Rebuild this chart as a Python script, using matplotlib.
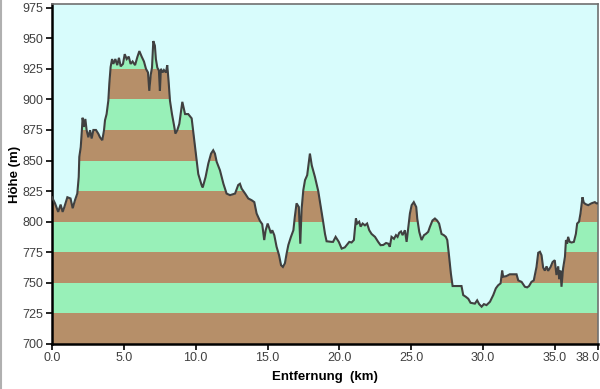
import matplotlib
matplotlib.use("Agg")
import matplotlib.pyplot as plt
import matplotlib.transforms as mtransforms
from matplotlib.lines import Line2D
import numpy as np

# Profile data (distance km, elevation m)
dist_km = [0.00, 0.21, 0.43, 0.60, 0.74, 0.86, 1.07, 1.29, 1.44, 1.60, 1.76, 1.86, 1.90, 2.00, 2.08,
           2.13, 2.22, 2.32, 2.41, 2.53, 2.65, 2.76, 2.88, 3.06, 3.22, 3.34, 3.50, 3.62, 3.69, 3.80,
           3.92, 3.99, 4.08, 4.18, 4.27, 4.41, 4.54, 4.66, 4.78, 4.94, 5.06, 5.20, 5.34, 5.47, 5.61,
           5.78, 5.94, 6.08, 6.24, 6.40, 6.54, 6.68, 6.77, 6.87, 6.96, 7.05, 7.16, 7.23, 7.33, 7.44,
           7.51, 7.58, 7.70, 7.79, 7.93, 8.02, 8.11, 8.21, 8.35, 8.49, 8.59, 8.72, 8.86, 9.07, 9.26,
           9.48, 9.72, 9.95, 10.18, 10.41, 10.49, 10.69, 10.88, 11.07, 11.22, 11.34, 11.46, 11.69, 11.93, 12.15,
           12.39, 12.74, 12.96, 13.08, 13.20, 13.44, 13.66, 13.89, 14.08, 14.24, 14.47, 14.63, 14.77, 14.87, 15.01,
           15.13, 15.23, 15.33, 15.47, 15.63, 15.80, 15.94, 16.07, 16.21, 16.33, 16.45, 16.63, 16.80, 16.90, 17.02,
           17.18, 17.28, 17.37, 17.49, 17.61, 17.76, 17.95, 18.08, 18.30, 18.53, 18.69, 18.87, 19.00, 19.11, 19.46,
           19.56, 19.74, 19.96, 20.16, 20.38, 20.69, 20.85, 21.01, 21.15, 21.24, 21.38, 21.48, 21.62, 21.78, 21.93,
           22.08, 22.24, 22.48, 22.70, 22.87, 23.06, 23.25, 23.41, 23.51, 23.63, 23.80, 23.94, 24.05, 24.17, 24.29,
           24.40, 24.56, 24.68, 24.80, 24.91, 25.03, 25.18, 25.35, 25.42, 25.56, 25.72, 25.89, 26.02, 26.18, 26.30,
           26.48, 26.65, 26.80, 26.94, 27.11, 27.27, 27.41, 27.51, 27.64, 27.76, 27.88, 28.16, 28.50, 28.62, 28.80,
           28.97, 29.13, 29.43, 29.59, 29.73, 29.90, 30.06, 30.24, 30.48, 30.71, 30.89, 31.05, 31.22, 31.33, 31.40,
           31.62, 31.86, 32.10, 32.33, 32.45, 32.68, 32.91, 33.07, 33.20, 33.37, 33.53, 33.72, 33.84, 33.96, 34.07,
           34.18, 34.30, 34.42, 34.53, 34.70, 34.84, 34.99, 35.11, 35.23, 35.30, 35.39, 35.46, 35.57, 35.70, 35.77,
           35.85, 35.92, 36.03, 36.16, 36.32, 36.46, 36.55, 36.68, 36.78, 36.92, 37.01, 37.13, 37.32, 37.54, 37.78,
           37.89, 38.00]
elev_m = [820, 815, 808, 814, 808, 812, 820, 819, 811, 817.6, 823, 836.6, 853, 861, 874.8,
          885, 877.5, 884, 874.8, 869, 874.8, 868, 875, 875, 872, 869, 866.6, 874.8, 883, 888,
          899, 913, 926.5, 933, 929, 933, 928, 934, 927, 929, 937, 933, 935, 929, 931,
          928, 934.6, 939.5, 935, 931, 925, 922, 907, 920, 926, 947.7, 944, 933, 926, 923.5,
          907, 925, 922, 924, 922, 928, 915.6, 899, 888, 879, 872, 874.8, 880, 898, 888,
          888, 884.5, 862, 839, 830, 828, 836.6, 847.6, 855.7, 858.4, 855.7, 849, 842, 831, 823,
          821.7, 823, 830, 831, 827, 823, 819, 817.6, 816, 806.7, 800.7, 798, 785, 793, 798.5,
          794.4, 790.6, 793, 789, 779.5, 772.7, 764.5, 763, 766, 774, 781, 787.6, 793, 804, 815,
          812, 782, 810, 825.8, 834, 838, 855.7, 846, 836.6, 825, 813.5, 800, 790, 784, 783.5,
          783.5, 787.6, 783.5, 778, 779, 783.5, 783, 785, 802.6, 798.5, 800, 796, 798.5, 797, 798.5,
          793, 790, 787.6, 783.5, 780.8, 781, 782.6, 782, 779.5, 787.6, 786, 789, 787.6, 791, 792,
          789, 793, 783.5, 795.7, 806.7, 813.5, 816, 812, 802.6, 791.7, 785, 789, 790, 791.7, 795.7,
          801, 802.6, 801, 798.5, 790, 789, 787.6, 785, 771.3, 757.7, 747.4, 747.4, 747.4, 740, 738.6,
          737, 733.7, 733, 735.7, 732.6, 730.5, 732.6, 731.8, 734.5, 740, 745.5, 748, 749.6, 760, 755,
          755.5, 757, 757, 757, 752, 750.8, 746.8, 746.3, 747.4, 750.8, 752, 763, 774.6, 775.4, 772.6,
          762.6, 760, 763.5, 759.8, 763, 767, 768.5, 756.4, 763.5, 753, 760, 746.8, 761.8, 771.3, 785,
          782, 787.6, 783.5, 783, 783.5, 790, 798.5, 800, 806.7, 820, 815.6, 814.4, 813.5, 815, 816,
          815, 815]

band_edges = [700, 725, 750, 775, 800, 825, 850, 875, 900, 925, 950, 975]
band_colors = ["#b68f69", "#98f0b8"]
y_ticks = [700, 725, 750, 775, 800, 825, 850, 875, 900, 925, 950, 975]
x_ticks = [0.0, 5.0, 10.0, 15.0, 20.0, 25.0, 30.0, 35.0, 38.0]
x_tick_labels = ["0.0", "5.0", "10.0", "15.0", "20.0", "25.0", "30.0", "35.0", "38.0"]

bg = "#d8fcfc"
plt.rcParams['font.family'] = ['Liberation Sans', 'DejaVu Sans']

fig = plt.figure(figsize=(6.0, 3.89), dpi=100)
fig.patch.set_facecolor("white")
ax = fig.add_axes([52/600, 45/389, 546/600, 340/389])
ax.set_facecolor(bg)

x = np.array(dist_km)
y = np.array(elev_m)
ymax = 978

for i in range(len(band_edges) - 1):
    ax.axhspan(band_edges[i], band_edges[i+1], color=band_colors[i % 2], lw=0, zorder=1)
ax.axhspan(band_edges[-1], ymax, color=bg, lw=0, zorder=1)
ax.fill_between(x, y, ymax, color=bg, lw=0, zorder=2)
ax.plot(x, y, color="#404040", lw=1.5, zorder=3, solid_joinstyle='miter')

ax.set_xlim(0, 38.0)
ax.set_ylim(700, ymax)
ax.set_yticks(y_ticks)
ax.set_yticklabels([str(v) for v in y_ticks])
ax.set_xticks(x_ticks)
ax.set_xticklabels(x_tick_labels)

ax.tick_params(axis='both', direction='out', length=4, width=1.2, color='black',
               labelsize=9, labelcolor='#404040', pad=2)
last = ax.get_xticklabels()[-1]
last.set_transform(last.get_transform() + mtransforms.ScaledTranslation(-10/100, 0, fig.dpi_scale_trans))

for side in ['left', 'bottom']:
    ax.spines[side].set_color('black')
    ax.spines[side].set_linewidth(1.8)
for side in ['top', 'right']:
    ax.spines[side].set_color('#707070')
    ax.spines[side].set_linewidth(1.2)

ax.set_ylabel("Höhe (m)", fontsize=9.5, fontweight='bold', color='black')
ax.yaxis.set_label_coords(-31/546, 0.5)
ax.set_xlabel("Entfernung  (km)", fontsize=9.5, fontweight='bold', color='black')
ax.xaxis.set_label_coords(0.5, -27/340)

fig.add_artist(Line2D([1/600, 1/600], [0, 1], transform=fig.transFigure, color='#b0b0b0', lw=1.5))

fig.savefig("out.png", dpi=100)
